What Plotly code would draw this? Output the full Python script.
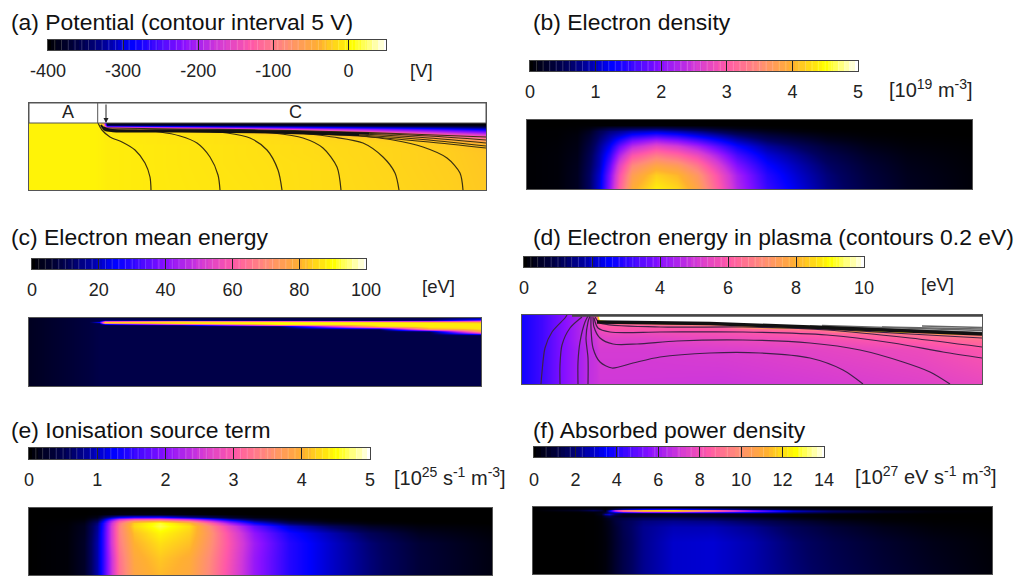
import numpy as np
import plotly.graph_objects as go

W, H = 1019, 576
FONT = "Liberation Sans"

COLORSCALE = [
    [0.00, "#000000"], [0.12, "#000060"], [0.25, "#0000ff"], [0.40, "#8a10ff"],
    [0.50, "#d038d8"], [0.60, "#ff58a8"], [0.70, "#ff8c78"], [0.80, "#ffb030"],
    [0.90, "#ffff00"], [1.00, "#ffffff"],
]

TITLES = ["(a) Potential (contour interval 5 V)", "(b) Electron density", "(c) Electron mean energy",
          "(d) Electron energy in plasma (contours 0.2 eV)", "(e) Ionisation source term",
          "(f) Absorbed power density"]
UNITS = ["[V]", "[10<sup>19</sup> m<sup>-3</sup>]", "[eV]", "[eV]",
         "[10<sup>25</sup> s<sup>-1</sup> m<sup>-3</sup>]",
         "[10<sup>27</sup> eV s<sup>-1</sup> m<sup>-3</sup>]"]
TICKS = [[-400, -300, -200, -100, 0], [0, 1, 2, 3, 4, 5], [0, 20, 40, 60, 80, 100],
         [0, 2, 4, 6, 8, 10], [0, 1, 2, 3, 4, 5], [0, 2, 4, 6, 8, 10, 12, 14]]
RANGES = [[-400, 50], [0, 5], [0, 100], [0, 10], [0, 5], [0, 14]]
BAR_CELLS = [50, 50, 50, 50, 50, 24]

# (a) potential, V
A_X = [0, 66, 70, 74, 78, 120, 200, 280, 360, 420, 457]
A_Y = [0, 2, 3, 4, 5, 6, 7, 8, 10, 12, 14, 16, 18, 20, 22, 25, 30, 40, 67]
A_COLS = [
    [-2, -2, -2, -2, -2, -2, -2, -2, -2, -2, -2, -2, -2, -2, -2, -2, -2, -2, -2],
    [-2, -2, -2, -2, -2, -2, -2, -2, -2, -2, -2, -2, -2, -2, -2, -2, -2, -2, -2],
    [-8, -4, -3, -3, -3, -3, -3, -3, -3, -3, -3, -3, -3, -3, -3, -3, -3, -3, -3],
    [-60, -20, -10, -6, -5, -5, -4, -4, -4, -4, -4, -4, -4, -4, -4, -4, -4, -4, -4],
    [-400, -345, -250, -170, -90, -40, -20, -12, -8, -7, -6, -6, -6, -5, -5, -5, -5, -5, -5],
    [-400, -350, -280, -180, -100, -50, -22, -14, -10, -9, -8, -8, -8, -8, -7, -7, -7, -7, -7],
    [-400, -360, -310, -240, -170, -110, -60, -28, -15, -12, -12, -12, -12, -12, -11, -11, -11, -11, -10],
    [-400, -370, -330, -280, -230, -170, -130, -90, -40, -22, -18, -17, -16, -16, -15, -15, -15, -14, -14],
    [-400, -380, -350, -310, -270, -230, -200, -170, -110, -60, -32, -24, -21, -20, -20, -19, -19, -19, -18],
    [-400, -385, -360, -330, -300, -270, -240, -215, -170, -120, -80, -50, -34, -28, -25, -24, -23, -23, -22],
    [-400, -390, -370, -345, -320, -295, -270, -245, -200, -160, -125, -90, -60, -42, -34, -30, -28, -27, -26],
]
A_LINES = [
    [[122, 121, 116, 106, 93, 81, 73, 69], [67, 54, 40, 27, 19, 14, 7, 0]],
    [[191, 189, 181, 168, 151, 131, 111, 84, 75], [67, 52, 34, 20, 13, 9, 7.5, 7.5, 6]],
    [[253, 249, 238, 221, 198, 171], [67, 47, 27, 15, 10, 8]],
    [[312, 308, 294, 274, 244, 211], [67, 44, 25, 15, 10, 8]],
    [[370, 366, 354, 334, 304, 271], [67, 50, 34, 20, 14, 10]],
    [[434, 431, 418, 394, 364, 324], [67, 50, 35, 24, 17, 12]],
    [[250, 330, 400, 457], [9.5, 13, 19, 25]],
    [[250, 330, 400, 457], [9, 12, 17, 23]],
    [[250, 330, 400, 457], [8.5, 11, 15, 20]],
    [[230, 330, 400, 457], [8, 10, 13, 17]],
    [[76, 150, 230, 300, 380, 457], [5, 6, 7, 8.5, 11, 14]],
]
A_BAND = [
    [[72, 76, 84, 150, 240, 330], [2, 7, 8.2, 8.5, 9.5, 12]],
    [[74, 80, 150, 240, 340], [4, 6.5, 7.2, 8.2, 10.5]],
]

# (b) electron density, 1e19 m-3
B_X = [0, 30, 50, 62, 72, 82, 92, 105, 129, 150, 170, 190, 210, 240, 270, 300, 340, 380, 445]
B_Y = [0, 5, 8, 11, 15, 20, 26, 35, 45, 55, 69]
B_Z = [
    [0, 0, 0, 0, 0, 0, 0, 0, 0, 0, 0, 0, 0, 0, 0, 0, 0, 0, 0],
    [0, 0, .01, .02, .02, .02, .03, .03, .03, .02, .02, .01, .01, 0, 0, 0, 0, 0, 0],
    [0, .01, .03, .1, .25, .4, .45, .5, .55, .45, .35, .22, .12, .05, .02, 0, 0, 0, 0],
    [.01, .02, .05, .2, .5, .7, .8, .95, 1.05, .92, .75, .55, .35, .18, .08, .03, .01, 0, 0],
    [.01, .02, .08, .28, .6, .85, 1.05, 1.35, 1.55, 1.4, 1.15, .9, .65, .38, .22, .1, .03, .01, 0],
    [.01, .03, .1, .35, .7, 1.0, 1.4, 1.85, 2.15, 1.95, 1.65, 1.3, .95, .6, .4, .2, .08, .03, .01],
    [.01, .04, .12, .42, .8, 1.2, 1.8, 2.35, 2.75, 2.55, 2.2, 1.75, 1.3, .85, .6, .35, .15, .06, .02],
    [.02, .05, .15, .5, .9, 1.45, 2.25, 2.95, 3.35, 3.15, 2.8, 2.25, 1.65, 1.1, .8, .5, .25, .11, .03],
    [.02, .05, .18, .55, .95, 1.7, 2.65, 3.45, 3.85, 3.7, 3.3, 2.65, 1.95, 1.3, .95, .62, .33, .15, .04],
    [.02, .05, .2, .6, 1.05, 1.9, 2.9, 3.75, 4.2, 4.05, 3.65, 2.95, 2.2, 1.45, 1.05, .7, .38, .18, .05],
    [.02, .05, .2, .6, 1.1, 2.0, 3.05, 3.95, 4.4, 4.25, 3.85, 3.1, 2.3, 1.55, 1.15, .75, .42, .2, .05],
]

# (c) electron mean energy, eV
C_X = [0, 60, 70, 76, 150, 250, 350, 400, 452]
C_Y = [0, 1, 2, 3, 4, 5, 6, 7, 8, 9, 10, 11, 12, 13, 14, 15, 16, 17, 18, 68]
C_COLS = [
    [4, 4, 4, 4, 4, 4, 4, 4, 4, 4, 4, 4, 4, 4, 4, 4, 4, 4, 4, 4],
    [8, 8, 8, 8, 8, 8, 8, 8, 8, 8, 8, 8, 8, 8, 8, 8, 8, 8, 8, 8],
    [9, 9, 9, 12, 25, 12, 9, 9, 9, 9, 9, 9, 9, 9, 9, 9, 9, 9, 9, 9],
    [9, 9, 16, 55, 84, 70, 25, 10, 9, 9, 9, 9, 9, 9, 9, 9, 9, 9, 9, 9],
    [9, 9, 16, 70, 86, 86, 55, 16, 9, 9, 9, 9, 9, 9, 9, 9, 9, 9, 9, 9],
    [9, 9, 14, 60, 88, 90, 88, 60, 16, 9, 9, 9, 9, 9, 9, 9, 9, 9, 9, 9],
    [9, 9, 12, 50, 84, 88, 88, 88, 84, 65, 35, 14, 9, 9, 9, 9, 9, 9, 9, 9],
    [10, 10, 16, 50, 82, 88, 88, 88, 88, 86, 82, 70, 45, 18, 10, 9, 9, 9, 9, 9],
    [18, 24, 38, 60, 80, 85, 87, 87, 87, 87, 87, 85, 82, 78, 65, 50, 28, 12, 9, 9],
]

# (d) electron energy in plasma, eV
D_X = [0, 20, 40, 60, 68, 74, 78, 85, 120, 200, 300, 400, 460]
D_Y = [0, 2, 3, 4, 6, 8, 10, 12, 14, 16, 18, 20, 25, 35, 69]
D_COLS = [
    [2.7, 2.7, 2.7, 2.7, 2.7, 2.7, 2.7, 2.7, 2.7, 2.7, 2.7, 2.7, 2.7, 2.7, 2.7],
    [3.2, 3.2, 3.2, 3.2, 3.2, 3.2, 3.2, 3.2, 3.2, 3.2, 3.2, 3.2, 3.2, 3.2, 3.2],
    [3.9, 3.9, 3.9, 3.9, 3.9, 3.9, 3.9, 3.9, 3.9, 3.9, 3.9, 3.9, 3.9, 3.9, 3.9],
    [4.6, 4.6, 4.6, 4.6, 4.6, 4.6, 4.6, 4.6, 4.6, 4.6, 4.6, 4.6, 4.6, 4.5, 4.5],
    [5.0, 5.0, 5.0, 5.0, 5.0, 5.0, 5.0, 5.0, 4.9, 4.9, 4.9, 4.9, 4.8, 4.8, 4.8],
    [6.5, 6.0, 5.8, 5.6, 5.5, 5.5, 5.5, 5.4, 5.3, 5.2, 5.1, 5.1, 5.0, 4.9, 4.9],
    [12, 11, 11, 10.5, 8, 6.2, 6, 5.9, 5.7, 5.6, 5.5, 5.4, 5.3, 5.1, 5],
    [12, 12, 12, 11, 9, 6.5, 6.2, 6, 5.9, 5.8, 5.6, 5.5, 5.3, 5.1, 5],
    [12, 12, 12, 12, 11, 7, 6.2, 6, 5.9, 5.8, 5.6, 5.5, 5.3, 5.1, 5],
    [12, 12, 12, 12, 12, 11, 7, 6.2, 6, 5.9, 5.8, 5.7, 5.5, 5.2, 4.95],
    [12, 12, 12, 12, 12, 12, 12, 11, 7, 6.3, 6.1, 6, 5.7, 5.4, 5.1],
    [12, 12, 12, 12, 12, 12, 12, 12, 12, 11, 7, 6.5, 6.1, 5.6, 5.3],
    [12, 12, 12, 12, 12, 12, 12, 12, 12, 12, 11, 7, 6.4, 5.9, 5.5],
]
D_LINES = [
    [[19, 20, 23, 30, 43, 45], [69, 57, 33, 17, 3, 0]],
    [[38, 38, 40, 48, 60], [69, 50, 30, 13, 2]],
    [[56, 56, 58, 63, 66], [69, 47, 27, 7, 1]],
    [[66, 66, 64, 66, 68], [69, 43, 23, 7, 1]],
    [[341, 321, 288, 238, 188, 138, 111, 90, 78, 71, 69, 69], [69, 55, 43, 38, 38, 42, 48, 53, 47, 33, 13, 2]],
    [[428, 408, 381, 338, 288, 221, 155, 115, 91, 78, 72, 71], [69, 57, 47, 35, 28, 25, 26, 29, 29, 23, 12, 2]],
    [[460, 421, 371, 305, 221, 138, 88, 76, 72], [43, 37, 28, 20, 17, 17, 17, 13, 3]],
    [[460, 388, 305, 221, 138, 78, 73], [32, 23, 15, 12, 12, 8, 2]],
    [[460, 388, 321, 221, 78], [23, 19, 15, 10, 8]],
]
D_EDGE = [[75, 188, 288, 355, 460], [7, 8.5, 12, 15, 19]]
D_FAN = [[[288, 355, 460], [11, 13.5, 17.5]], [[300, 400, 460], [10.5, 13.5, 15.5]],
         [[360, 420, 460], [12, 13, 14]], [[400, 460], [11, 12.5]]]
D_TOP = [[50, 200, 460], [0.8, 0.8, 0.8]]

# (e) ionisation source term, 1e25 s-1 m-3
E_X = [0, 38, 55, 68, 74, 82, 90, 105, 131, 160, 180, 200, 225, 260, 300, 340, 390, 463]
E_Y = [0, 6, 9, 11, 13, 15, 18, 25, 35, 50, 68]
E_Z = [
    [0, 0, 0, 0, 0, 0, 0, 0, 0, 0, 0, 0, 0, 0, 0, 0, 0, 0],
    [0, 0, 0, .02, .05, .08, .1, .1, .1, .06, .03, .01, 0, 0, 0, 0, 0, 0],
    [0, 0, .02, .15, .5, .9, 1.2, 1.4, 1.4, .9, .6, .3, .1, .03, 0, 0, 0, 0],
    [0, .01, .05, .35, .9, 1.7, 2.4, 2.9, 3.0, 2.4, 1.7, 1.0, .45, .12, .03, 0, 0, 0],
    [0, .02, .1, .55, 1.2, 2.2, 3.0, 3.8, 4.1, 3.5, 2.6, 1.7, .9, .35, .1, .03, 0, 0],
    [0, .03, .15, .7, 1.4, 2.4, 3.3, 4.2, 4.6, 4.1, 3.2, 2.2, 1.3, .6, .25, .08, .02, 0],
    [0, .04, .2, .8, 1.45, 2.5, 3.4, 4.25, 4.65, 4.3, 3.55, 2.7, 1.8, 1.05, .6, .25, .08, .02],
    [0, .05, .22, .85, 1.5, 2.5, 3.4, 4.1, 4.45, 4.2, 3.65, 2.9, 2.05, 1.35, .95, .55, .2, .05],
    [0, .05, .25, .9, 1.5, 2.5, 3.35, 4.0, 4.3, 4.1, 3.6, 2.95, 2.15, 1.45, 1.05, .68, .33, .09],
    [0, .05, .25, .9, 1.5, 2.4, 3.25, 3.9, 4.15, 3.95, 3.5, 2.9, 2.1, 1.45, 1.05, .7, .35, .1],
    [0, .05, .25, .9, 1.5, 2.4, 3.2, 3.85, 4.05, 3.9, 3.45, 2.85, 2.1, 1.45, 1.05, .7, .35, .1],
]

# (f) absorbed power density, 1e27 eV s-1 m-3
F_X = [0, 45, 60, 68, 72, 76, 82, 90, 110, 140, 180, 220, 260, 300, 350, 400, 459]
F_Y = [0, 2, 3, 4, 5, 6, 7, 9, 11, 14, 20, 35, 67]
F_Z = [
    [0, 0, 0, 0, 0, 0, 0, 0, 0, 0, 0, 0, 0, 0, 0, 0, 0],
    [0, .3, .6, .4, .1, .6, 1.5, 2.5, 3.5, 3.8, 2.8, 1.5, .7, .3, .1, .02, 0],
    [0, .6, 1.5, 1.0, .3, 2.5, 6.5, 9.0, 11.5, 12.0, 9.0, 5.0, 2.3, 1.2, .4, .1, .01],
    [0, .3, .8, .7, .5, 3.0, 6.0, 8.5, 10.5, 11.0, 8.5, 5.5, 2.8, 1.6, .6, .15, .02],
    [0, .05, .2, .4, .9, 2.2, 3.5, 4.5, 5.5, 5.5, 4.5, 3.5, 2.0, 1.2, .5, .1, 0],
    [0, 0, .1, .5, 1.5, 2.2, 2.0, 1.6, 1.6, 1.8, 1.8, 1.6, 1.0, .5, .2, .05, 0],
    [0, 0, .05, .5, 2.5, 3.0, 1.5, .6, .4, .5, .5, .4, .2, .1, .03, 0, 0],
    [0, 0, .02, .2, .9, 1.3, .8, .5, .7, .8, .6, .35, .15, .05, .02, 0, 0],
    [0, 0, .02, .15, .4, .7, 1.0, 1.15, 1.5, 1.6, 1.4, .9, .45, .15, .05, .01, 0],
    [0, 0, .02, .1, .3, .5, 1.0, 1.4, 2.0, 2.2, 2.1, 1.6, 1.0, .5, .15, .04, .01],
    [0, 0, .02, .1, .25, .45, .85, 1.4, 2.2, 2.65, 2.65, 2.2, 1.5, .95, .45, .15, .03],
    [0, 0, .02, .1, .2, .4, .8, 1.3, 2.2, 2.9, 3.0, 2.55, 1.85, 1.3, .8, .4, .1],
    [0, 0, .02, .1, .2, .4, .8, 1.3, 2.2, 2.9, 3.0, 2.55, 1.95, 1.45, .95, .55, .15],
]

FIELDS = [
    (A_X, A_Y, np.array(A_COLS).T.tolist()), (B_X, B_Y, B_Z),
    (C_X, C_Y, np.array(C_COLS).T.tolist()), (D_X, D_Y, np.array(D_COLS).T.tolist()),
    (E_X, E_Y, E_Z), (F_X, F_Y, F_Z),
]

# page layout, in pixels: (x0, y0, x1, y1)
MAP_BOX = [(29, 123, 486, 190), (527, 120, 972, 189), (29, 318, 481, 386),
           (522, 315, 982, 384), (29, 508, 492, 575), (533, 507, 992, 574)]
BAR_BOX = [(48, 40, 386, 50), (530, 61, 858, 71), (32, 259, 366, 269),
           (524, 257, 864, 267), (29, 448, 370, 459), (534, 447, 824, 457)]
TITLE_POS = [(10, 22), (532, 22), (10, 237), (532, 237), (10, 430), (532, 430)]
UNIT_POS = [(421, 70), (931, 89), (438, 286), (937, 284), (450, 476), (926, 475)]
BAR_STANDOFF = [4, 4, 4, 4, 4, 6]


def px(x):
    return x / W


def py(y):
    return 1 - y / H


def add_lines(fig, lines, xa, ya, color, width, smooth=True):
    for lx, ly in lines:
        line = dict(color=color, width=width)
        if smooth:
            line.update(shape="spline", smoothing=0.8)
        fig.add_trace(go.Scatter(x=lx, y=ly, mode="lines", xaxis=xa, yaxis=ya, hoverinfo="skip",
                                 showlegend=False, line=line))


fig = go.Figure()
layout = {}
annotations = []
shapes = []
n = 1
for i in range(6):
    xs, ys, zs = FIELDS[i]
    lo, hi = RANGES[i]
    # field map
    x0, y0, x1, y1 = MAP_BOX[i]
    mw, mh = x1 - x0, y1 - y0
    top = -20 if i == 0 else 0
    y_dom = y0 - 20 if i == 0 else y0
    xa, ya = f"x{n}", f"y{n}"
    fig.add_trace(go.Heatmap(x=xs, y=ys, z=zs, zmin=lo, zmax=hi, colorscale=COLORSCALE,
                             zsmooth="best", showscale=False, xaxis=xa, yaxis=ya,
                             hoverinfo="skip"))
    layout[f"xaxis{n}"] = dict(domain=[px(x0), px(x1)], range=[0, mw], showticklabels=False, ticks="",
                               showgrid=False, zeroline=False, showline=True, mirror=True,
                               linecolor="#555555", linewidth=1, anchor=ya)
    layout[f"yaxis{n}"] = dict(domain=[py(y1), py(y_dom)], range=[mh, top], showticklabels=False, ticks="",
                               showgrid=False, zeroline=False, showline=True, mirror=True,
                               linecolor="#555555", linewidth=1, anchor=xa)
    if i == 0:
        add_lines(fig, A_LINES, xa, ya, "#3a3010", 1.2)
        add_lines(fig, A_BAND, xa, ya, "#111111", 2)
        shapes.append(dict(type="rect", xref=xa, yref=ya, x0=0, x1=mw, y0=-20, y1=0, layer="above",
                           fillcolor="white", line=dict(color="#555555", width=1)))
        shapes.append(dict(type="line", xref=xa, yref=ya, x0=68.7, x1=68.7, y0=-20, y1=0, layer="above",
                           line=dict(color="#555555", width=1)))
        annotations.append(dict(x=77, y=0, ax=77, ay=-20, xref=xa, yref=ya, axref=xa, ayref=ya, text="",
                                showarrow=True, arrowhead=2, arrowsize=1, arrowwidth=1, arrowcolor="#222222"))
        annotations.append(dict(x=39, y=-10.5, xref=xa, yref=ya, text="A", showarrow=False,
                                font=dict(family=FONT, size=18, color="#222222")))
        annotations.append(dict(x=266, y=-10.5, xref=xa, yref=ya, text="C", showarrow=False,
                                font=dict(family=FONT, size=18, color="#222222")))
    if i == 3:
        add_lines(fig, D_LINES, xa, ya, "#40204a", 1.2)
        add_lines(fig, D_FAN, xa, ya, "#666666", 1.5, smooth=False)
        add_lines(fig, [D_EDGE], xa, ya, "#111111", 3.5, smooth=False)
        add_lines(fig, [D_TOP], xa, ya, "#444444", 2, smooth=False)
    n += 1

    # colour bar drawn as a stepped one-row map on its own value axis
    bx0, by0, bx1, by1 = BAR_BOX[i]
    xa, ya = f"x{n}", f"y{n}"
    cells = BAR_CELLS[i]
    edges = np.linspace(lo, hi, cells + 1)
    ramp = np.linspace(lo, hi, 61)
    fig.add_trace(go.Heatmap(x=ramp.tolist(), y=[0], z=[ramp.tolist()], zmin=lo, zmax=hi,
                             colorscale=COLORSCALE, showscale=False, xaxis=xa, yaxis=ya,
                             hoverinfo="skip"))
    stripe_x, stripe_y = [], []
    for e in edges[1:-1]:
        stripe_x += [float(e), float(e), None]
        stripe_y += [-0.5, 0.5, None]
    fig.add_trace(go.Scatter(x=stripe_x, y=stripe_y, mode="lines", xaxis=xa, yaxis=ya, hoverinfo="skip",
                             showlegend=False, line=dict(color="rgba(255,255,255,0.2)", width=1)))
    layout[f"xaxis{n}"] = dict(domain=[px(bx0), px(bx1)], range=[lo, hi], tickmode="array", tickvals=TICKS[i],
                               ticktext=[str(t) for t in TICKS[i]], ticks="inside", ticklen=by1 - by0,
                               tickwidth=1, tickcolor="#222222", showgrid=False, zeroline=False,
                               showline=True, mirror=True, linecolor="#444444", linewidth=1, anchor=ya,
                               ticklabelstandoff=BAR_STANDOFF[i],
                               tickfont=dict(family=FONT, size=18, color="#222222"))
    layout[f"yaxis{n}"] = dict(domain=[py(by1), py(by0)], range=[-0.5, 0.5], showticklabels=False, ticks="",
                               showgrid=False, zeroline=False, showline=True, mirror=True,
                               linecolor="#444444", linewidth=1, anchor=xa)
    n += 1

    annotations.append(dict(x=px(TITLE_POS[i][0]), y=py(TITLE_POS[i][1]), xref="paper", yref="paper",
                            text=TITLES[i], showarrow=False, xanchor="left", yanchor="middle", xshift=-1,
                            font=dict(family=FONT, size=22.9, color="#111111")))
    annotations.append(dict(x=px(UNIT_POS[i][0]), y=py(UNIT_POS[i][1]), xref="paper", yref="paper",
                            text=UNITS[i], showarrow=False, xanchor="center", yanchor="middle",
                            font=dict(family=FONT, size=20 if "sup" in UNITS[i] else 18.5, color="#222222")))

fig.update_layout(width=W, height=H, autosize=False,
                  margin=dict(l=0, r=0, t=0, b=0, pad=0, autoexpand=False),
                  paper_bgcolor="white", plot_bgcolor="white", showlegend=False,
                  annotations=annotations, shapes=shapes, **layout)
fig.write_html("out.html", config={"displayModeBar": False},
               post_script="document.body.style.margin='0';")
